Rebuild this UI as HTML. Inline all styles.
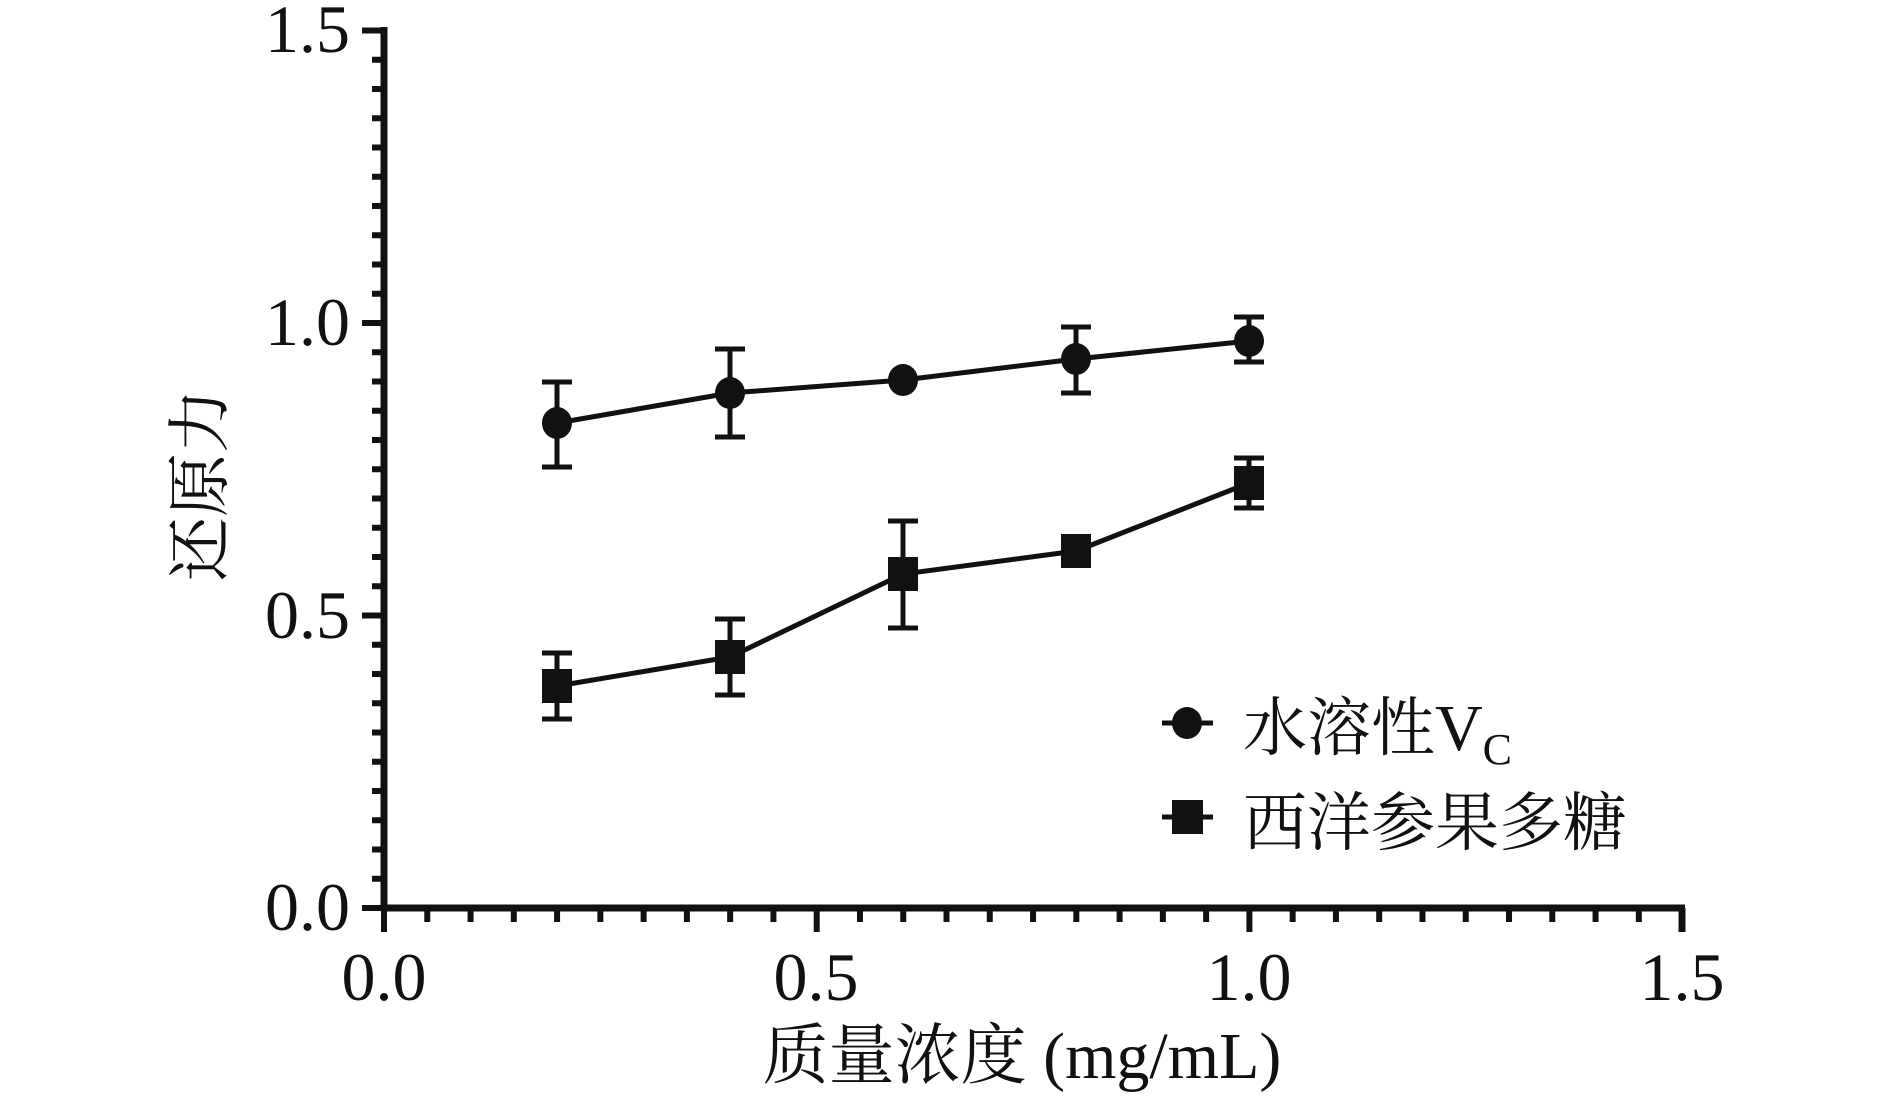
<!DOCTYPE html>
<html><head><meta charset="utf-8"><style>
html,body{margin:0;padding:0;background:#fff;}
svg{display:block;}
text{fill:#111;}
</style></head><body>
<svg width="1890" height="1098" viewBox="0 0 1890 1098" xmlns="http://www.w3.org/2000/svg">
<g stroke="#111" stroke-width="7" fill="none">
<line x1="384" y1="27" x2="384" y2="911"/>
<line x1="381" y1="908" x2="1685" y2="908"/>
<line x1="1682" y1="908" x2="1682" y2="932"/>
</g>
<g id="yt" stroke="#111" stroke-width="6"></g>
<g id="xt" stroke="#111" stroke-width="6"></g>
<g font-family="Liberation Serif, serif" font-size="68" text-anchor="end">
<text x="350" y="52">1.5</text>
<text x="350" y="345">1.0</text>
<text x="350" y="638">0.5</text>
<text x="350" y="930">0.0</text>
</g>
<g font-family="Liberation Serif, serif" font-size="68" text-anchor="middle">
<text x="384" y="1000">0.0</text>
<text x="816" y="1000">0.5</text>
<text x="1249" y="1000">1.0</text>
<text x="1682" y="1000">1.5</text>
</g>
<text x="1022" y="1078" text-anchor="middle" font-family="Liberation Serif, 'Noto Serif CJK SC', serif" font-size="66">质量浓度 (mg/mL)</text>
<text transform="translate(222,485) rotate(-90)" text-anchor="middle" font-family="'Noto Serif CJK SC', serif" font-size="64">还原力</text>
<g stroke="#111" stroke-width="5" fill="none">
<polyline points="557,423 730,393 903,380 1076,359 1249,341"/>
<polyline points="557,686 730,657 903,574 1076,551 1249,483"/>
</g>
<g id="eb" stroke="#111" stroke-width="5"></g>
<g fill="#111">
<ellipse cx="557" cy="423" rx="15" ry="16"/>
<ellipse cx="730" cy="393" rx="15" ry="16"/>
<ellipse cx="903" cy="380" rx="15" ry="16"/>
<ellipse cx="1076" cy="359" rx="15" ry="16"/>
<ellipse cx="1249" cy="341" rx="15" ry="16"/>
<rect x="542" y="669" width="30" height="34"/>
<rect x="715" y="640" width="30" height="34"/>
<rect x="888" y="557" width="30" height="34"/>
<rect x="1061" y="534" width="30" height="34"/>
<rect x="1234" y="466" width="30" height="34"/>
</g>
<g stroke="#111" stroke-width="5"><line x1="1162" y1="723" x2="1213" y2="723"/><line x1="1162" y1="817" x2="1213" y2="817"/></g>
<ellipse cx="1187" cy="723" rx="15" ry="16" fill="#111"/>
<rect x="1172" y="800" width="31" height="34" fill="#111"/>
<text x="1243" y="750" font-family="'Noto Serif CJK SC', serif" font-size="64">水溶性<tspan font-family="Liberation Serif, serif" font-size="66">V</tspan><tspan font-family="Liberation Serif, serif" font-size="44" dy="14">C</tspan></text>
<text x="1243" y="845" font-family="'Noto Serif CJK SC', serif" font-size="64">西洋参果多糖</text>
</svg>
<script>
var ns="http://www.w3.org/2000/svg";
function L(g,x1,y1,x2,y2){var l=document.createElementNS(ns,"line");l.setAttribute("x1",x1);l.setAttribute("y1",y1);l.setAttribute("x2",x2);l.setAttribute("y2",y2);document.getElementById(g).appendChild(l);}
for(var i=0;i<=30;i++){var y=908-i*29.25;if(i%10==0)L("yt",362,y,384,y);else L("yt",372,y,384,y);}
for(var i=0;i<=30;i++){var x=384+i*43.27;if(i%10==0)L("xt",x,908,x,932);else L("xt",x,908,x,922);}
var e=[[557,382,467],[730,349,437],[1076,327,393],[1249,317,362],[557,653,719],[730,619,695],[903,521,628],[1249,458,508]];
e.forEach(function(a){L("eb",a[0],a[1],a[0],a[2]);L("eb",a[0]-15,a[1],a[0]+15,a[1]);L("eb",a[0]-15,a[2],a[0]+15,a[2]);});
</script>
</body></html>
